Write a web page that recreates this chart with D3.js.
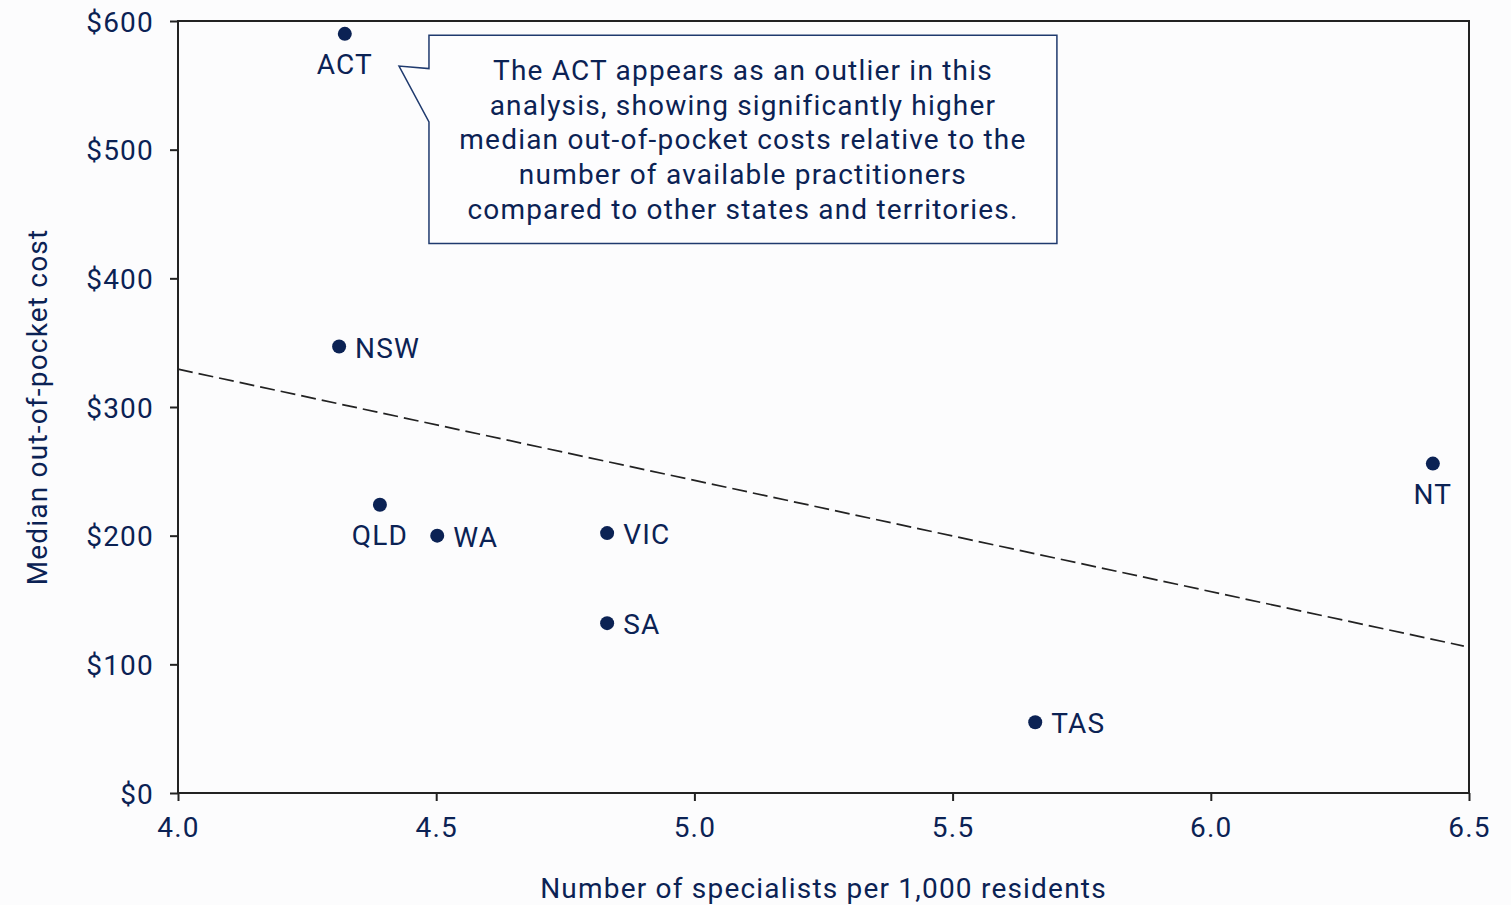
<!DOCTYPE html>
<html>
<head>
<meta charset="utf-8">
<script src="https://cdn.jsdelivr.net/npm/d3@7"></script>
<style>
    html,body{margin:0;padding:0;background:#fcfcfd;}
    svg{display:block;font-family:Roboto,"Noto Sans",sans-serif;}
    svg text{letter-spacing:1.2px;}
</style>
</head>
<body>
<svg id="chart"></svg>
<script>
// state / territory data
const states = ["ACT","NSW","QLD","WA","VIC","SA","TAS","NT"];
const specialists = [4.323,4.312,4.391,4.502,4.831,4.831,5.660,6.430];
const oop_cost = [590,347,224,200,202,132,55,256];
const label_side = ["below","right","below","right","right","right","right","below"];

const x_ticks = [4.0,4.5,5.0,5.5,6.0,6.5];
const y_ticks = [0,100,200,300,400,500,600];

const note_lines = [
    "The ACT appears as an outlier in this",
    "analysis, showing significantly higher",
    "median out-of-pocket costs relative to the",
    "number of available practitioners",
    "compared to other states and territories."
];

const navy = "#0b2254";
const dark = "#222";
const fsize = 28;

const width = 1511, height = 905;
const margin = {top:21,right:42,bottom:112,left:178};
const inner_width = width-margin.left-margin.right;
const inner_height = height-margin.top-margin.bottom;

const data = states.map((s,i)=>({name:s,x:specialists[i],y:oop_cost[i],side:label_side[i]}));

const svg = d3.select("#chart")
    .attr("width",width)
    .attr("height",height);

const chart = svg.append("g")
    .attr("transform",`translate(${margin.left},${margin.top})`);

const xscale = d3.scaleLinear().domain([4.0,6.5]).range([0,inner_width]);
const yscale = d3.scaleLinear().domain([0,600]).range([inner_height,0]);

// frame
chart.append("rect")
    .attr("width",inner_width)
    .attr("height",inner_height)
    .attr("fill","none")
    .attr("stroke",dark)
    .attr("stroke-width",2);

const xaxis = d3.axisBottom(xscale).tickValues(x_ticks).tickFormat(d3.format(".1f")).tickSize(8).tickPadding(16);
const yaxis = d3.axisLeft(yscale).tickValues(y_ticks).tickFormat(d=>"$"+d).tickSize(8).tickPadding(16);

const xg = chart.append("g").attr("transform",`translate(0,${inner_height})`).call(xaxis);
const yg = chart.append("g").call(yaxis);
[xg,yg].forEach(g=>{
    g.select(".domain").remove();
    g.selectAll("line").attr("stroke",dark).attr("stroke-width",2);
    g.selectAll("text").attr("fill",navy).attr("font-size",fsize).attr("font-family","Roboto");
});
yg.selectAll("text").attr("dy","0.36em");

// linear trend
const mx = d3.mean(data,d=>d.x), my = d3.mean(data,d=>d.y);
const slope = d3.sum(data,d=>(d.x-mx)*(d.y-my))/d3.sum(data,d=>(d.x-mx)**2);
const trend = x=>my+slope*(x-mx);
chart.append("line")
    .attr("x1",xscale(4.0)).attr("y1",yscale(trend(4.0)))
    .attr("x2",xscale(6.49)).attr("y2",yscale(trend(6.49)))
    .attr("stroke",dark)
    .attr("stroke-width",1.7)
    .attr("stroke-dasharray","15,6");

// points
chart.selectAll("circle")
    .data(data)
    .enter()
    .append("circle")
    .attr("cx",d=>xscale(d.x))
    .attr("cy",d=>yscale(d.y))
    .attr("r",7)
    .attr("fill",navy);

chart.selectAll(".lbl")
    .data(data)
    .enter()
    .append("text")
    .attr("class","lbl")
    .attr("x",d=>d.side=="right" ? xscale(d.x)+16 : xscale(d.x))
    .attr("y",d=>d.side=="right" ? yscale(d.y)+11 : yscale(d.y)+40)
    .attr("text-anchor",d=>d.side=="right" ? "start" : "middle")
    .attr("font-size",fsize)
    .attr("fill",navy)
    .text(d=>d.name);

// callout box
const bx0 = xscale(4.486), bx1 = xscale(5.702);
const by0 = yscale(589), by1 = yscale(427);
const tip = [xscale(4.428),yscale(565)];
const notch = [yscale(563),yscale(521.5)];
chart.append("path")
    .attr("d",`M${bx0},${by0}L${bx1},${by0}L${bx1},${by1}L${bx0},${by1}L${bx0},${notch[1]}L${tip[0]},${tip[1]}L${bx0},${notch[0]}Z`)
    .attr("fill","#fdfdfe")
    .attr("stroke","#1f3a6e")
    .attr("stroke-width",1.5);

chart.append("g").selectAll("text")
    .data(note_lines)
    .enter()
    .append("text")
    .attr("x",(bx0+bx1)/2)
    .attr("y",(d,i)=>by0+45+i*34.6)
    .attr("text-anchor","middle")
    .attr("font-size",fsize)
    .attr("fill",navy)
    .text(d=>d);

// axis titles
svg.append("text")
    .attr("x",margin.left+inner_width/2)
    .attr("y",height-7)
    .attr("text-anchor","middle")
    .attr("font-size",fsize)
    .attr("fill",navy)
    .text("Number of specialists per 1,000 residents");

svg.append("text")
    .attr("transform","rotate(-90)")
    .attr("x",-(margin.top+inner_height/2))
    .attr("y",47)
    .attr("text-anchor","middle")
    .attr("font-size",fsize)
    .attr("fill",navy)
    .text("Median out-of-pocket cost");
</script>
</body>
</html>
